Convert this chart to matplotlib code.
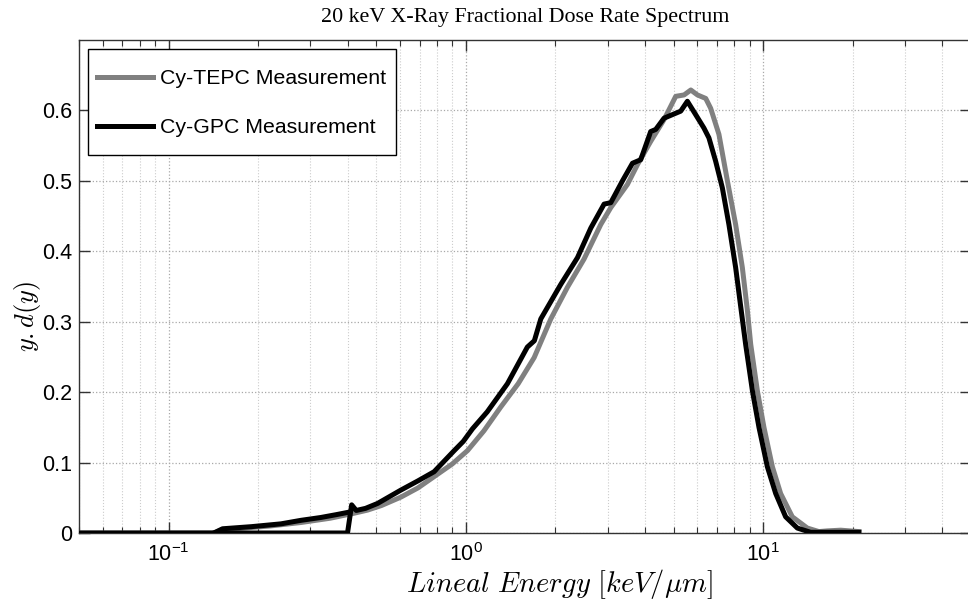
import numpy as np
import matplotlib
matplotlib.use("Agg")
import matplotlib.pyplot as plt
from matplotlib.lines import Line2D
from matplotlib.legend_handler import HandlerLine2D
from matplotlib.ticker import LogLocator, FuncFormatter, NullFormatter

# ===== data =====
# Cy-TEPC (grey)
tepc_x = [0.05, 0.142, 0.150, 0.18, 0.22, 0.28, 0.35, 0.42, 0.467, 0.52,
          0.605, 0.69, 0.782, 0.90, 1.013, 1.15, 1.311, 1.50, 1.697, 1.931,
          2.197, 2.498, 2.843, 3.072, 3.496, 3.777, 4.185, 4.641, 5.08, 5.42,
          5.71, 6.01, 6.41, 6.66, 7.10, 7.58, 8.08, 8.51, 8.85, 9.08,
          9.56, 10.06, 10.74, 11.45, 12.53, 14.08, 15.40, 16.44, 18.22, 20.99]
tepc_y = [0, 0, 0.004, 0.007, 0.010, 0.015, 0.021, 0.028, 0.0325, 0.039,
          0.051, 0.064, 0.080, 0.098, 0.117, 0.145, 0.179, 0.212, 0.249, 0.304,
          0.349, 0.389, 0.438, 0.462, 0.495, 0.523, 0.556, 0.587, 0.620, 0.622,
          0.629, 0.622, 0.617, 0.603, 0.566, 0.500, 0.438, 0.377, 0.316, 0.268,
          0.202, 0.150, 0.094, 0.056, 0.023, 0.007, 0.002, 0.003, 0.004, 0.002]

# Cy-GPC (black), main range
gpc_x = [0.05, 0.40, 0.413, 0.428, 0.46, 0.505, 0.605, 0.69, 0.782, 0.914,
         0.98, 1.053, 1.18, 1.38, 1.61, 1.70, 1.787, 2.086, 2.374, 2.632,
         2.917, 3.072, 3.363, 3.634, 3.874, 4.185, 4.351, 4.641, 5.281, 5.56,
         5.93, 6.32, 6.57, 6.92, 7.29, 7.67, 8.08, 8.40, 8.73, 9.20,
         9.68, 10.33, 11.02, 11.90, 13.03, 14.44, 16.44, 20.99]
gpc_y = [0, 0, 0.040, 0.032, 0.035, 0.042, 0.061, 0.074, 0.087, 0.117,
         0.130, 0.148, 0.172, 0.212, 0.264, 0.273, 0.304, 0.353, 0.391, 0.433,
         0.467, 0.469, 0.500, 0.525, 0.530, 0.570, 0.573, 0.589, 0.599, 0.613,
         0.594, 0.575, 0.561, 0.528, 0.490, 0.438, 0.377, 0.322, 0.268, 0.202,
         0.150, 0.094, 0.056, 0.023, 0.007, 0.001, 0.001, 0.001]

# Cy-GPC (black), low-gain piece below 0.4 keV/um
gpc_low_x = [0.142, 0.152, 0.19, 0.239, 0.279, 0.325, 0.366, 0.398]
gpc_low_y = [0, 0.006, 0.009, 0.013, 0.018, 0.022, 0.026, 0.029]


class CenteredLine(HandlerLine2D):
    # keep the legend line level with the text when rows are taller
    def create_artists(self, legend, orig_handle, xdescent, ydescent,
                       width, height, fontsize, trans):
        arts = super().create_artists(legend, orig_handle, xdescent, ydescent,
                                      width, height, fontsize, trans)
        for a in arts:
            a.set_ydata(np.full(len(a.get_xdata()), 0.35 * fontsize))
        return arts


plt.rcParams['font.family'] = ['Liberation Sans', 'DejaVu Sans']
plt.rcParams['mathtext.fontset'] = 'custom'
plt.rcParams['mathtext.rm'] = 'Liberation Sans'
plt.rcParams['mathtext.it'] = 'Liberation Sans:italic'

fig = plt.figure(figsize=(9.68, 6.03), dpi=100)
ax = fig.add_axes([79 / 968, 1 - 533 / 603, 892 / 968, 493 / 603])

ax.plot(tepc_x, tepc_y, color="#808080", lw=3.6, label="Cy-TEPC Measurement",
        solid_joinstyle="round", zorder=3)
ax.plot(gpc_x, gpc_y, color="black", lw=3.6, label="Cy-GPC Measurement",
        solid_joinstyle="round", zorder=4)
ax.plot(gpc_low_x, gpc_low_y, color="black", lw=3.6,
        solid_joinstyle="round", zorder=4)

ax.set_xscale("log")
ax.set_xlim(0.05, 50)
ax.set_ylim(0, 0.7)
ax.set_yticks([0, 0.1, 0.2, 0.3, 0.4, 0.5, 0.6])
ax.yaxis.set_major_formatter(FuncFormatter(lambda v, p: "0" if v == 0 else f"{v:.1f}"))
ax.xaxis.set_major_locator(LogLocator(base=10, numticks=10))
ax.xaxis.set_minor_locator(LogLocator(base=10, subs=np.arange(2, 10), numticks=20))
ax.xaxis.set_major_formatter(FuncFormatter(lambda v, p: r"$10^{%d}$" % round(np.log10(v))))
ax.xaxis.set_minor_formatter(NullFormatter())

ax.tick_params(which="both", direction="in", top=True, right=True, labelsize=15.5)
ax.tick_params(which="major", length=8, width=1, color="#333333")
ax.tick_params(which="minor", length=4, width=0.8, color="#333333")
ax.tick_params(axis="x", pad=7)
ax.tick_params(axis="y", pad=5)

ax.grid(True, which="major", linestyle=":", color="#a8a8a8", lw=0.9)
ax.grid(True, which="minor", linestyle=":", color="#cccccc", lw=0.8)
ax.set_axisbelow(True)
for s in ax.spines.values():
    s.set_color("#333333")
    s.set_linewidth(1.0)

ax.set_title("20 keV X-Ray Fractional Dose Rate Spectrum",
             family="Liberation Serif", fontsize=15.8, pad=13)
ax.set_xlabel(r"$Lineal\ Energy\ [keV/\mu m]$", fontsize=20.5, math_fontfamily="cm")
ax.xaxis.set_label_coords(0.539, -0.068)
ax.set_ylabel(r"$y{.}d(y)$", fontsize=19, math_fontfamily="cm")
ax.yaxis.set_label_coords(-0.040, 0.44)

leg = ax.legend(loc="upper left", fontsize=15.3, frameon=True, fancybox=False,
                edgecolor="black", framealpha=1, handlelength=2.63,
                handleheight=2.4, borderaxespad=0.42, labelspacing=0.5,
                borderpad=0.45, handletextpad=0.33,
                handler_map={Line2D: CenteredLine()})
leg.get_frame().set_linewidth(1.0)

fig.savefig("out.png", dpi=100)
